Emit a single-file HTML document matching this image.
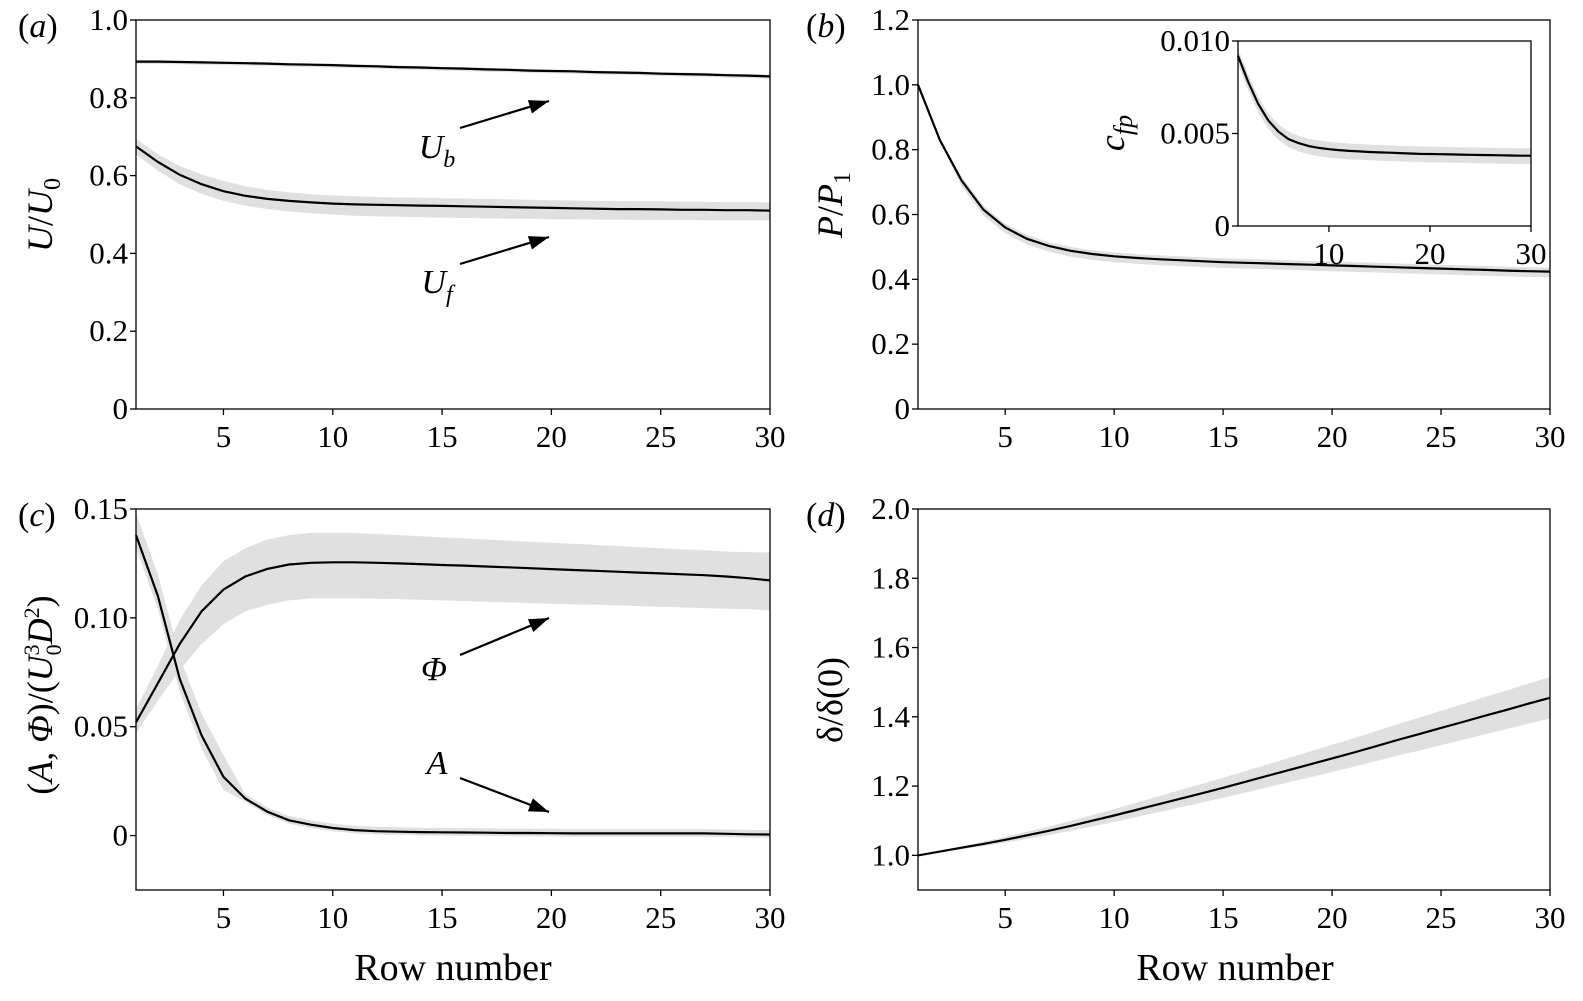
<!DOCTYPE html>
<html><head><meta charset="utf-8"><style>
html,body{margin:0;padding:0;background:#fff;}
svg{display:block;font-family:"Liberation Serif",serif;}
</style></head><body>
<svg id="fig" width="1583" height="1001" viewBox="0 0 1583 1001" xmlns="http://www.w3.org/2000/svg">
<defs><marker id="ah" markerWidth="22" markerHeight="16" refX="20" refY="7" orient="auto" markerUnits="userSpaceOnUse"><path d="M0,0 L20,7 L0,14 z" fill="#000"/></marker></defs>
</svg>
<script>
const rows = [1,2,3,4,5,6,7,8,9,10,11,12,13,14,15,16,17,18,19,20,21,22,23,24,25,26,27,28,29,30];
const ub = [0.893,0.893,0.892,0.891,0.890,0.889,0.888,0.886,0.885,0.884,0.882,0.881,0.879,0.878,0.876,0.875,0.873,0.872,0.870,0.869,0.868,0.866,0.865,0.864,0.862,0.861,0.860,0.858,0.857,0.855];
const ubLo = ub.map(v=>v-0.006);
const ubHi = ub.map(v=>v+0.004);
const uf = [0.675,0.635,0.602,0.578,0.560,0.548,0.540,0.535,0.531,0.528,0.526,0.525,0.524,0.523,0.522,0.521,0.520,0.519,0.518,0.517,0.516,0.515,0.514,0.514,0.513,0.512,0.512,0.511,0.511,0.510];
const ufLo = [0.655,0.612,0.578,0.553,0.535,0.523,0.514,0.508,0.503,0.500,0.497,0.495,0.494,0.493,0.492,0.491,0.490,0.489,0.489,0.488,0.488,0.487,0.487,0.486,0.486,0.486,0.485,0.485,0.485,0.485];
const ufHi = [0.695,0.655,0.625,0.603,0.586,0.573,0.563,0.557,0.552,0.549,0.547,0.545,0.544,0.543,0.542,0.541,0.540,0.539,0.538,0.537,0.536,0.535,0.535,0.534,0.534,0.533,0.533,0.532,0.532,0.531];
const pp = [1.0,0.83,0.705,0.615,0.56,0.525,0.503,0.488,0.478,0.471,0.466,0.462,0.459,0.456,0.453,0.451,0.449,0.447,0.445,0.443,0.441,0.439,0.437,0.435,0.433,0.431,0.429,0.427,0.425,0.424];
const ppLo = pp.map((v,i)=>v-(i<2?0.003:0.018));
const ppHi = pp.map((v,i)=>v+(i<2?0.003:0.012));
const cfp = [0.0092,0.0078,0.0066,0.0057,0.0051,0.0047,0.00448,0.00432,0.00422,0.00415,0.0041,0.00406,0.00403,0.004,0.00398,0.00396,0.00394,0.00392,0.0039,0.00389,0.00388,0.00387,0.00386,0.00385,0.00384,0.00383,0.00382,0.00381,0.0038,0.0038];
const cfpLo = cfp.map(v=>v-0.00045);
const cfpHi = cfp.map(v=>v+0.0004);
const phi = [0.052,0.070,0.088,0.103,0.113,0.119,0.1225,0.1245,0.1253,0.1255,0.1255,0.1253,0.1250,0.1247,0.1243,0.1240,0.1236,0.1232,0.1228,0.1224,0.1220,0.1216,0.1212,0.1208,0.1204,0.1200,0.1196,0.1190,0.1182,0.1172];
const phiLo = [0.047,0.062,0.076,0.088,0.097,0.103,0.106,0.108,0.109,0.109,0.109,0.1088,0.1086,0.1083,0.108,0.1077,0.1074,0.1071,0.1068,0.1065,0.1062,0.106,0.1057,0.1054,0.1051,0.1048,0.1045,0.1042,0.104,0.1035];
const phiHi = [0.058,0.078,0.099,0.115,0.126,0.132,0.136,0.138,0.139,0.139,0.139,0.1385,0.138,0.1375,0.137,0.1365,0.136,0.1355,0.135,0.1345,0.134,0.1335,0.133,0.1325,0.132,0.1315,0.131,0.1305,0.1302,0.130];
const amp = [0.138,0.110,0.072,0.046,0.027,0.017,0.011,0.007,0.005,0.0035,0.0025,0.002,0.0018,0.0016,0.0015,0.0014,0.0013,0.0012,0.0012,0.0011,0.001,0.001,0.001,0.001,0.001,0.001,0.001,0.0008,0.0006,0.0005];
const ampLo = amp.map((v,i)=>v-(i<5?0.006:0.0015));
const ampHi = amp.map((v,i)=>v+(i<5?0.01:0.002));
const dl = [1.0,1.011,1.022,1.033,1.045,1.058,1.071,1.085,1.100,1.115,1.131,1.147,1.163,1.179,1.195,1.212,1.229,1.246,1.263,1.280,1.297,1.315,1.333,1.350,1.368,1.385,1.403,1.420,1.438,1.455];
const dlLo = dl.map((v,i)=>v-0.06*i/29);
const dlHi = dl.map((v,i)=>v+0.06*i/29);
const xTicks = [5,10,15,20,25,30];

const svg=document.getElementById('fig');
const NS='http://www.w3.org/2000/svg';
function el(tag,attrs,parent){const e=document.createElementNS(NS,tag);for(const k in attrs)e.setAttribute(k,attrs[k]);(parent||svg).appendChild(e);return e;}
function txt(s,x,y,size,parent,anchor){const t=el('text',{x:x,y:y,'font-size':size,'text-anchor':anchor||'middle'},parent);t.innerHTML=s;return t;}

function panel(name,L,R,T,B,x0,x1,y0,y1,yTicks,yLabels,xt,series,fs){
  const g=el('g',{});
  
  
  const sx=v=>L+(v-x0)/(x1-x0)*(R-L);
  const sy=v=>B-(v-y0)/(y1-y0)*(B-T);
  series.forEach(s=>{
    let d='';
    rows.forEach((r,i)=>{d+=(i?'L':'M')+sx(r).toFixed(1)+','+sy(s.hi[i]).toFixed(1);});
    for(let i=rows.length-1;i>=0;i--)d+='L'+sx(rows[i]).toFixed(1)+','+sy(s.lo[i]).toFixed(1);
    const b=el('path',{d:d+'Z',fill:'#e0e0e0',stroke:'none'},g);
    
    
  });
  series.forEach(s=>{
    let d='';
    rows.forEach((r,i)=>{d+=(i?'L':'M')+sx(r).toFixed(1)+','+sy(s.v[i]).toFixed(1);});
    const p=el('path',{d:d,fill:'none',stroke:'#000','stroke-width':2.2},g);
    
    
  });
  const fr=el('rect',{x:L,y:T,width:R-L,height:B-T,fill:'none',stroke:'#000','stroke-width':1.3},g);
  
  
  yTicks.forEach((v,i)=>{
    el('line',{x1:L-6,x2:L,y1:sy(v),y2:sy(v),stroke:'#000','stroke-width':1.3},g);
    const t=txt(yLabels[i],L-8,sy(v)+10,fs,g,'end');
    
    
  });
  xt.forEach(v=>{
    el('line',{x1:sx(v),x2:sx(v),y1:B,y2:B+6,stroke:'#000','stroke-width':1.3},g);
    const t=txt(String(v),sx(v),B+38,fs,g,'middle');
    
    
  });
  return {sx,sy,g};
}
const F=31;
panel('panel-a',136,770,20,409,1,30,0,1.0,[0,0.2,0.4,0.6,0.8,1.0],['0','0.2','0.4','0.6','0.8','1.0'],xTicks,
  [{name:'ub',v:ub,lo:ubLo,hi:ubHi},{name:'uf',v:uf,lo:ufLo,hi:ufHi}],F);
panel('panel-b',918,1550,20,409,1,30,0,1.2,[0,0.2,0.4,0.6,0.8,1.0,1.2],['0','0.2','0.4','0.6','0.8','1.0','1.2'],xTicks,
  [{name:'p',v:pp,lo:ppLo,hi:ppHi}],F);
panel('panel-b-inset',1238,1531,41,226,1,30,0,0.010,[0,0.005,0.010],['0','0.005','0.010'],[10,20,30],
  [{name:'cfp',v:cfp,lo:cfpLo,hi:cfpHi}],F);
panel('panel-c',136,770,509,890,1,30,-0.025,0.15,[0,0.05,0.10,0.15],['0','0.05','0.10','0.15'],xTicks,
  [{name:'phi',v:phi,lo:phiLo,hi:phiHi},{name:'a',v:amp,lo:ampLo,hi:ampHi}],F);
panel('panel-d',918,1550,509,890,1,30,0.9,2.0,[1.0,1.2,1.4,1.6,1.8,2.0],['1.0','1.2','1.4','1.6','1.8','2.0'],xTicks,
  [{name:'delta',v:dl,lo:dlLo,hi:dlHi}],F);

[['(<tspan font-style="italic">a</tspan>)',18,37],['(<tspan font-style="italic">b</tspan>)',806,37],['(<tspan font-style="italic">c</tspan>)',18,526],['(<tspan font-style="italic">d</tspan>)',806,526]].forEach(a=>{
  const t=txt(a[0],a[1],a[2],34,null,'start');
  
  
});
function ytitle(html,x,y,name){const t=txt(html,0,0,36,null,'middle');t.setAttribute('transform','translate('+x+','+y+') rotate(-90)');
  
  }
ytitle('<tspan font-style="italic">U</tspan>/<tspan font-style="italic">U</tspan><tspan font-size="24" dy="8">0</tspan>',52,215,'y-axis-title-a');
ytitle('<tspan font-style="italic">P</tspan>/<tspan font-style="italic">P</tspan><tspan font-size="24" dy="8">1</tspan>',842,205,'y-axis-title-b');
ytitle('<tspan font-style="italic">c</tspan><tspan font-size="26" dy="8" font-style="italic">fp</tspan>',1124,133,'y-axis-title-inset');
ytitle('(<tspan font-style="italic">A</tspan>, <tspan font-style="italic">Φ</tspan>)/(<tspan font-style="italic">U</tspan><tspan font-size="22" dy="-13">3</tspan><tspan font-size="22" dx="-11" dy="22">0</tspan><tspan font-style="italic" dy="-9">D</tspan><tspan font-size="22" dy="-13">2</tspan><tspan dy="13">)</tspan>',52,695,'y-axis-title-c');
ytitle('δ/δ(0)',842,700,'y-axis-title-d');
[[453,'x-axis-title-c'],[1235,'x-axis-title-d']].forEach(a=>{const t=txt('Row number',a[0],980,38,null,'middle');
  
  });
function ann(label,tx,ty,x1,y1,x2,y2,name){
  const t=txt(label,tx,ty,34,null,'middle');
  
  
  const l=el('line',{x1:x1,y1:y1,x2:x2,y2:y2,stroke:'#000','stroke-width':2.2,'marker-end':'url(#ah)'});
  
  
}
ann('<tspan font-style="italic">U</tspan><tspan font-size="24" dy="9" font-style="italic">b</tspan>',437,158,460,128,549,101,'ub-annotation');
ann('<tspan font-style="italic">U</tspan><tspan font-size="24" dy="9" font-style="italic">f</tspan>',437,293,460,264,549,237,'uf-annotation');
ann('<tspan font-style="italic">Φ</tspan>',434,680,460,655,549,618,'phi-annotation');
ann('<tspan font-style="italic">A</tspan>',437,774,460,778,549,812,'a-annotation');
</script>
</body></html>
